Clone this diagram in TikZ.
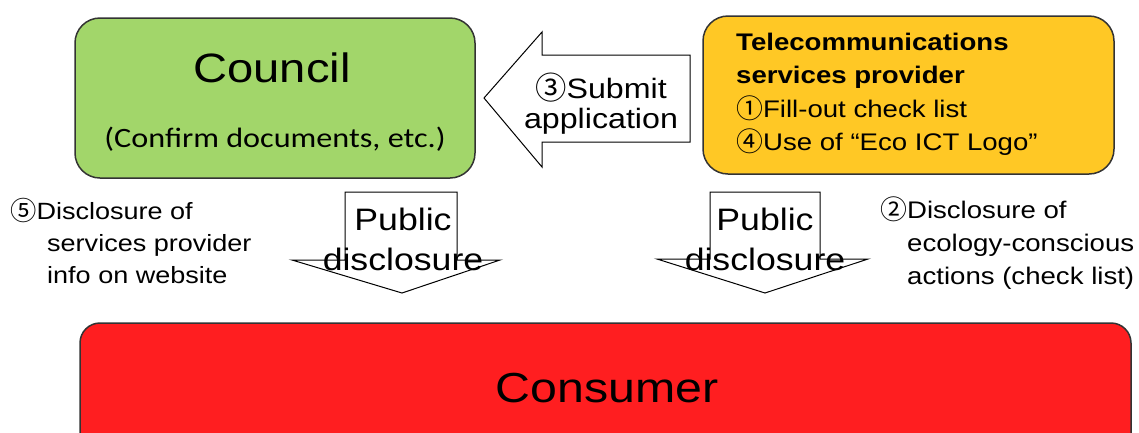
\documentclass[tikz,border=0pt]{standalone}
\usepackage{graphicx}
\usepackage{fontspec}
\setmainfont{Liberation Sans}[FakeStretch=1.15]
\newfontfamily\circfont{Noto Sans CJK JP}
\newfontfamily\calfont{Carlito}[FakeStretch=1.15]
\newcommand\cdig[1]{\raisebox{-0.06em}{\scalebox{1.12}{\circfont #1}}}
\newcommand\fs[1]{\fontsize{#1}{#1}\selectfont}
\definecolor{councilgreen}{HTML}{A2D66A}
\definecolor{provorange}{HTML}{FFC825}
\definecolor{consred}{HTML}{FF1E20}
\begin{document}
\begin{tikzpicture}[x=1pt,y=-1pt,
  box/.style={draw=black!80,line width=1.5pt,rounded corners=25pt},
  barrow/.style={draw=black,line width=1pt,fill=white,line join=miter},
  txt/.style={inner sep=0pt,anchor=base},
  txtw/.style={inner sep=0pt,anchor=base west}]
\useasboundingbox (0,0) rectangle (1139,432);
\fill[white] (0,0) rectangle (1139,432);
% boxes
\draw[box,fill=councilgreen] (75,18) rectangle (475,178);
\draw[box,fill=provorange] (703,16) rectangle (1114,174);
\draw[box,fill=consred,rounded corners=20pt] (80,323) rectangle (1131,470);
% block arrows
\draw[barrow] (484,98) -- (542,32) -- (542,55) -- (690,55) -- (690,142) -- (542,142) -- (542,167) -- cycle;
\draw[barrow] (345,192) -- (457,192) -- (457,260) -- (500,260) -- (402,293) -- (292,260) -- (345,260) -- cycle;
\draw[barrow] (710,192) -- (820,192) -- (820,259) -- (868,259) -- (765,293) -- (657,259) -- (710,259) -- cycle;
% council texts
\node[txt] (council) at (272,82) {\fs{41}Council};
\node[txt] (confirm) at (275,147) {\calfont\fs{28}(Confirm documents, etc.)};
% submit
\node[txt] (submit1) at (601,98) {\fs{28}\cdig{③}Submit};
\node[txt] (submit2) at (601,128) {\fs{28}application};
% public disclosure
\node[txt] (publ1) at (403,230) {\fs{31}Public};
\node[txt] (publ2) at (403,270) {\fs{31}disclosure};
\node[txt] (pubr1) at (765,230) {\fs{31}Public};
\node[txt] (pubr2) at (765,270) {\fs{31}disclosure};
% provider texts
\node[txtw] (prov1) at (736,50) {\fs{24}\bfseries Telecommunications};
\node[txtw] (prov2) at (736,83) {\fs{24}\bfseries services provider};
\node[txtw] (prov3) at (736,117) {\fs{24}\cdig{①}Fill-out check list};
\node[txtw] (prov4) at (736,150) {\fs{24}\cdig{④}Use of “Eco ICT Logo”};
% left notes
\node[txtw] (left1) at (10,219) {\fs{23.5}\cdig{⑤}Disclosure of};
\node[txtw] (left2) at (47,251) {\fs{23.5}services provider};
\node[txtw] (left3) at (47,283) {\fs{23.5}info on website};
% right notes
\node[txtw] (right1) at (880,218) {\fs{24}\cdig{②}Disclosure of};
\node[txtw] (right2) at (907,251) {\fs{24}ecology-conscious};
\node[txtw] (right3) at (907,284) {\fs{24}actions (check list)};
% consumer
\node[txt] (consumer) at (607,402) {\fs{42}Consumer};
\end{tikzpicture}
\end{document}
